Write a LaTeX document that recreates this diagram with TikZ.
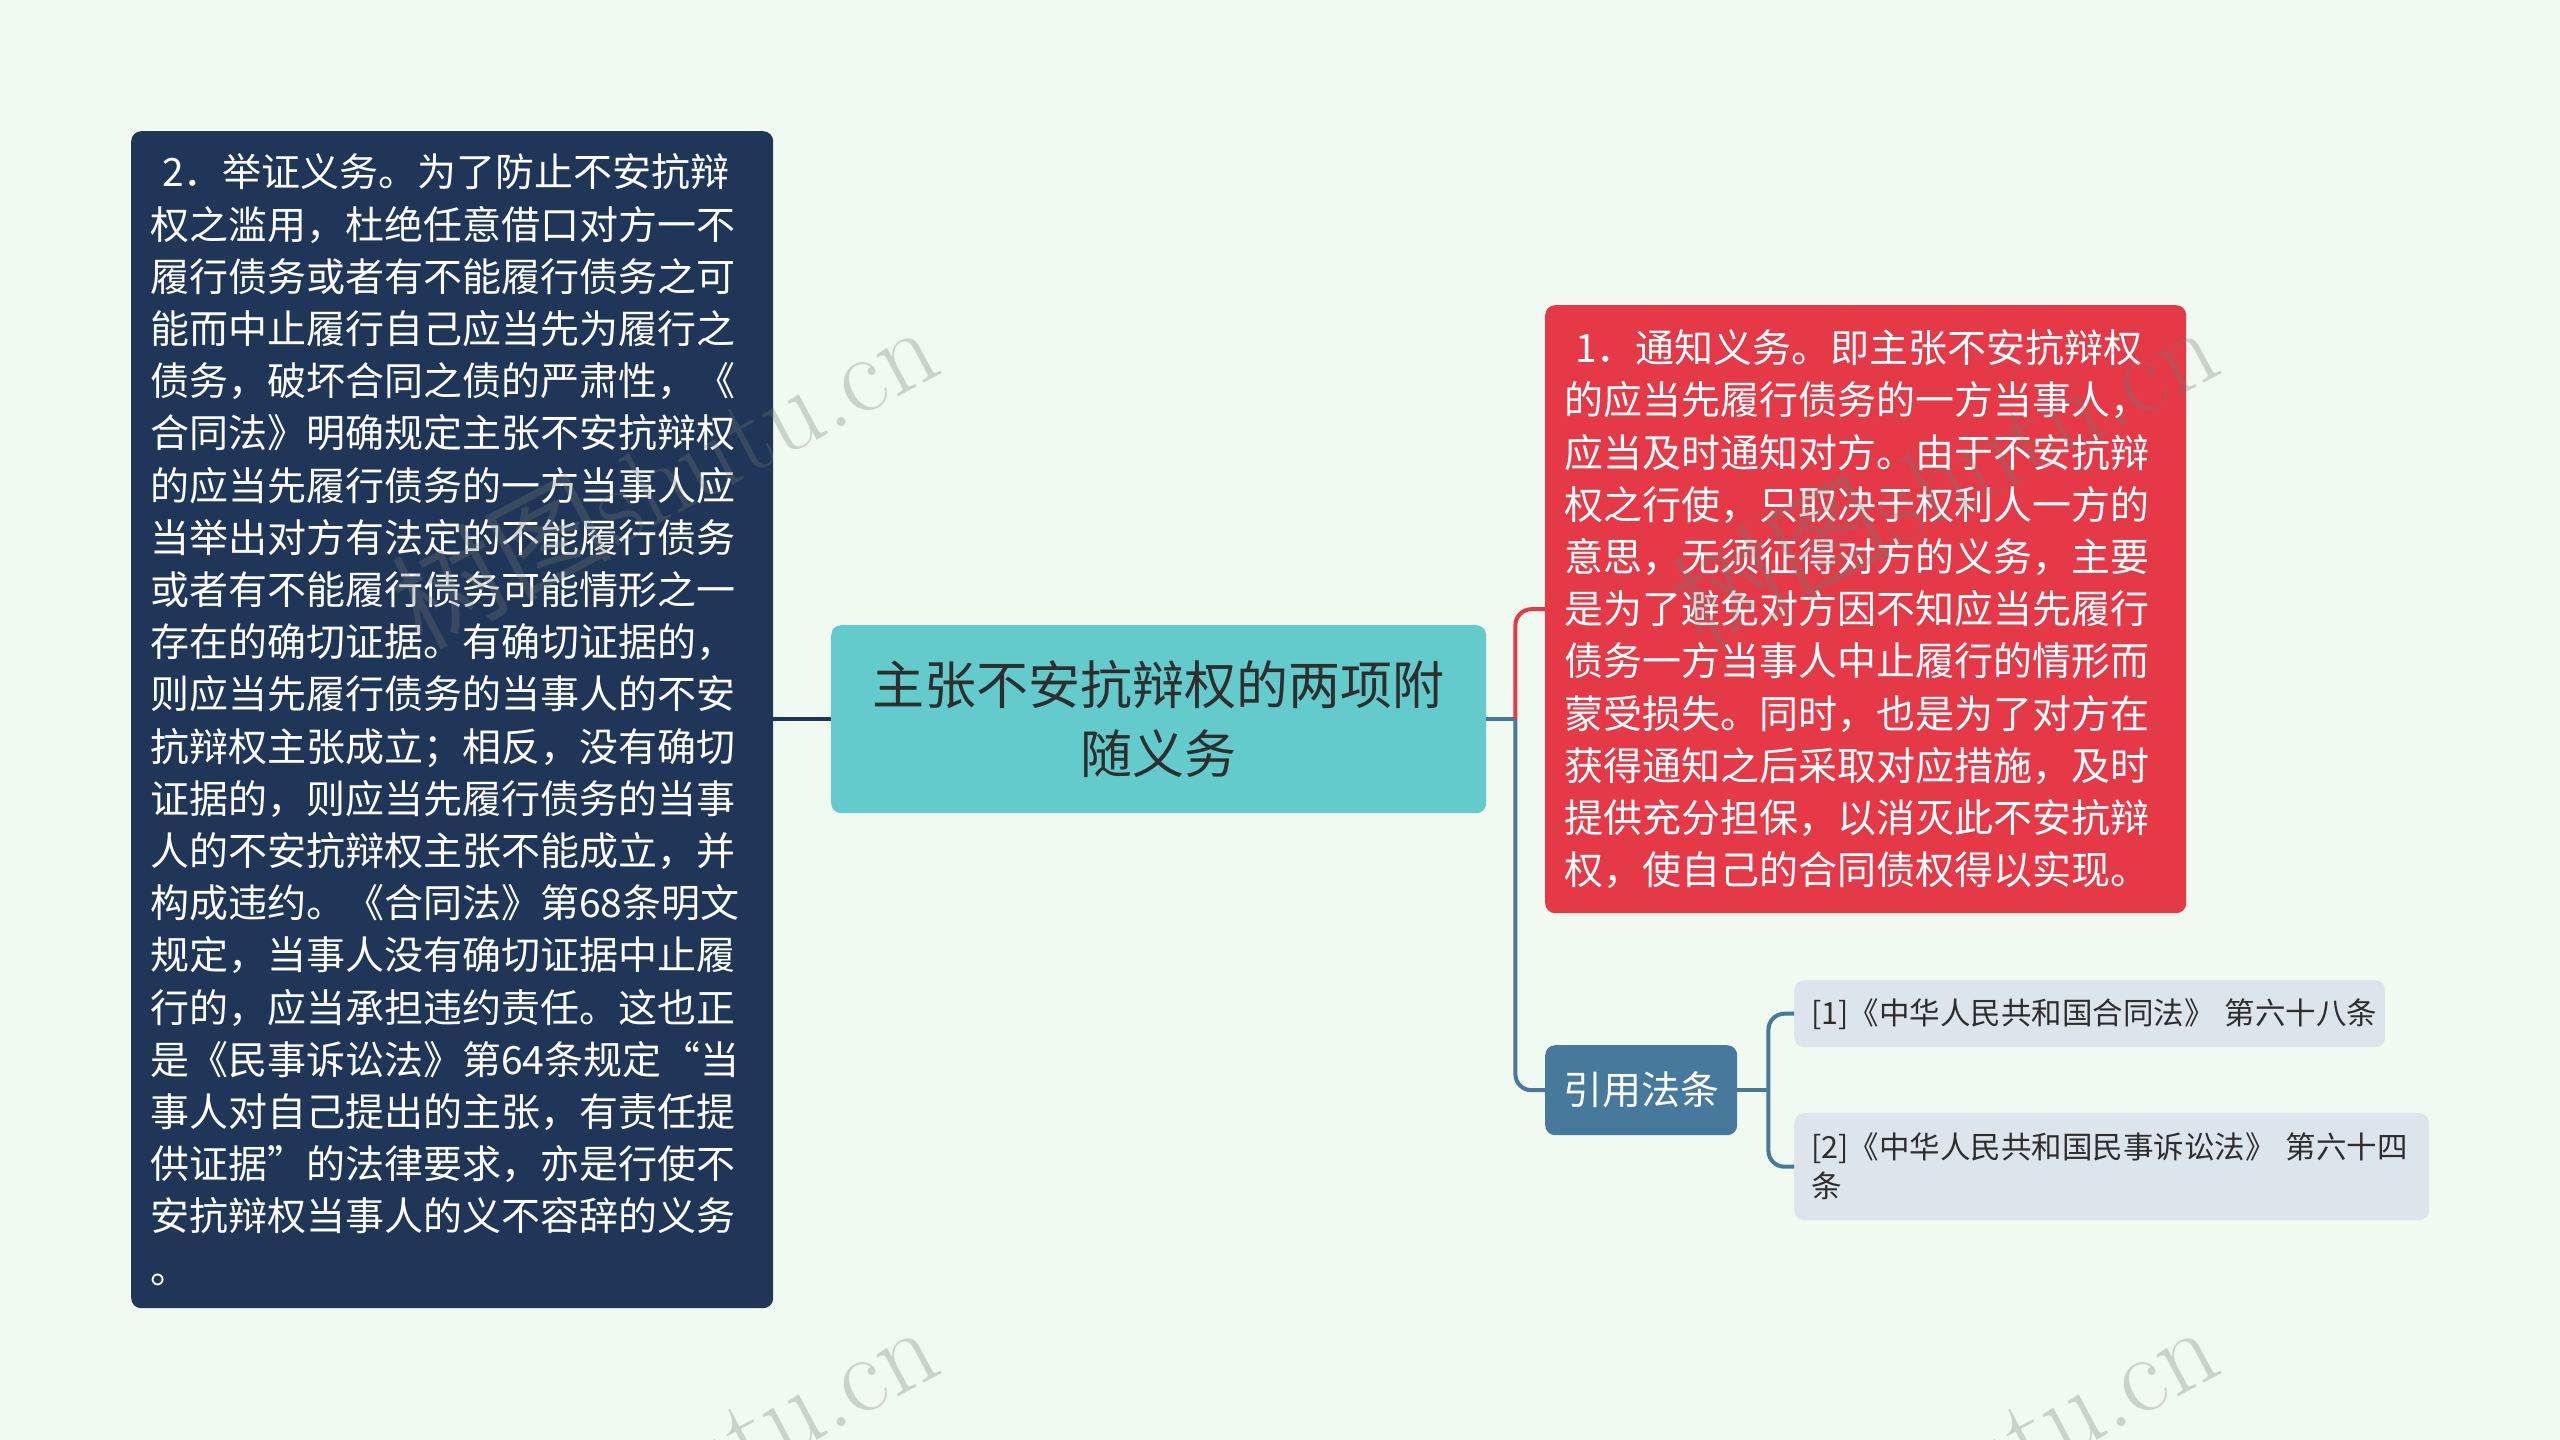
\documentclass[tikz,border=0pt]{standalone}
\usepackage{fontspec}
\newfontfamily\cjk{Noto Sans CJK SC}
\usetikzlibrary{calc}
\definecolor{bgc}{HTML}{F0FAF0}
\definecolor{navy}{HTML}{1F3659}
\definecolor{teal}{HTML}{63CBCB}
\definecolor{redc}{HTML}{E53947}
\definecolor{citec}{HTML}{47799C}
\definecolor{refc}{HTML}{DCE4EC}
\definecolor{darktxt}{HTML}{2E2E2E}
\definecolor{wmgray}{HTML}{737A73}
\begin{document}
\begin{tikzpicture}[x=1pt,y=-1pt,
  box/.style={rectangle, rounded corners=10pt, inner sep=0pt},
  bigtext/.style={font=\cjk\fontsize{39}{52.2}\selectfont},
  reftext/.style={font=\cjk\fontsize{30.5}{39}\selectfont},
  conn/.style={line width=4pt, rounded corners=16pt},
  wmark/.style={anchor=base east, rotate=28, inner sep=0pt, text=wmgray, text opacity=0.3, font=\fontsize{110}{110}\selectfont}]
\fill[bgc] (0,0) rectangle (2560,1440);
\useasboundingbox (0,0) rectangle (2560,1440);

\node[box, fill=navy, text=white, anchor=north west, minimum width=642pt, minimum height=1177pt, text width=604pt, align=left, bigtext] (left) at (131,131) {%
\hspace*{12pt}2．举证义务。为了防止不安抗辩\\
权之滥用，杜绝任意借口对方一不\\
履行债务或者有不能履行债务之可\\
能而中止履行自己应当先为履行之\\
债务，破坏合同之债的严肃性，《\\
合同法》明确规定主张不安抗辩权\\
的应当先履行债务的一方当事人应\\
当举出对方有法定的不能履行债务\\
或者有不能履行债务可能情形之一\\
存在的确切证据。有确切证据的，\\
则应当先履行债务的当事人的不安\\
抗辩权主张成立；相反，没有确切\\
证据的，则应当先履行债务的当事\\
人的不安抗辩权主张不能成立，并\\
构成违约。《合同法》第68条明文\\
规定，当事人没有确切证据中止履\\
行的，应当承担违约责任。这也正\\
是《民事诉讼法》第64条规定“当\\
事人对自己提出的主张，有责任提\\
供证据”的法律要求，亦是行使不\\
安抗辩权当事人的义不容辞的义务\\
。};

\node[box, fill=teal, text=darktxt, anchor=north west, minimum width=655pt, minimum height=188pt, text width=620pt, align=center, font=\cjk\fontsize{52}{69}\selectfont] (center) at (831,625) {主张不安抗辩权的两项附\\随义务};

\node[box, fill=redc, text=white, anchor=north west, minimum width=641pt, minimum height=608pt, text width=603pt, align=left, bigtext] (red) at (1545,305) {%
\hspace*{11pt}1．通知义务。即主张不安抗辩权\\
的应当先履行债务的一方当事人，\\
应当及时通知对方。由于不安抗辩\\
权之行使，只取决于权利人一方的\\
意思，无须征得对方的义务，主要\\
是为了避免对方因不知应当先履行\\
债务一方当事人中止履行的情形而\\
蒙受损失。同时，也是为了对方在\\
获得通知之后采取对应措施，及时\\
提供充分担保，以消灭此不安抗辩\\
权，使自己的合同债权得以实现。};

\node[box, fill=citec, text=white, anchor=north west, minimum width=192pt, minimum height=90pt, align=center, bigtext] (cite) at (1545,1045) {引用法条};

\node[box, fill=refc, text=darktxt, anchor=north west, minimum width=591pt, minimum height=67pt, text width=557pt, align=left, reftext] (ref1) at (1794,980) {\mbox{[1]《中华人民共和国合同法》 第六十八条}};

\node[box, fill=refc, text=darktxt, anchor=north west, minimum width=635pt, minimum height=107pt, text width=601pt, align=left, reftext] (ref2) at (1794,1113) {\mbox{[2]《中华人民共和国民事诉讼法》 第六十四}\\条};

% connectors
\draw[conn, navy] (center.west) -- (center.west -| left.east);
\coordinate (j) at ($(center.east)+(29,0)$);
\draw[conn, citec] (center.east) -- (j);
\draw[conn, redc] (j) |- (red.west);
\draw[conn, citec] (j) |- (cite.west);
\coordinate (j2) at ($(cite.east)+(31,0)$);
\draw[conn, citec] (cite.east) -- (j2);
\draw[conn, citec] (j2) |- (ref1.west);
\draw[conn, citec] (j2) |- (ref2.west);

% watermarks
\node[wmark] (wm1) at (945,372) {{\cjk 树图}shutu.cn};
\node[wmark] (wm2) at (2225,372) {{\cjk 树图}shutu.cn};
\node[wmark] (wm3) at (945,1372) {{\cjk 树图}shutu.cn};
\node[wmark] (wm4) at (2225,1372) {{\cjk 树图}shutu.cn};
\end{tikzpicture}
\end{document}
